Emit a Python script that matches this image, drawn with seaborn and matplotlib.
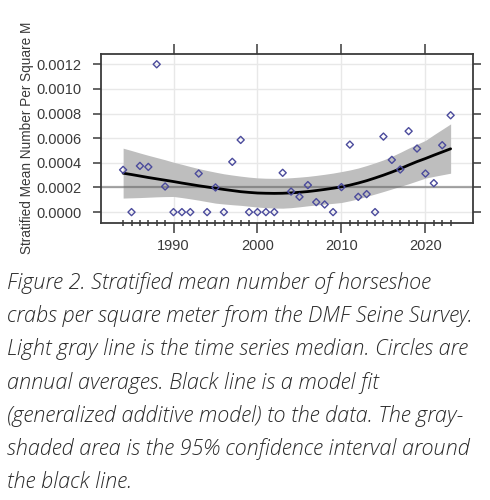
import numpy as np
import pandas as pd
import seaborn as sns
import matplotlib
matplotlib.use("Agg")
import matplotlib.pyplot as plt
from matplotlib.ticker import FixedLocator, FuncFormatter

# annual averages
years = list(range(1984, 2024))
density = [0.000343, 0.0, 0.000375, 0.000367, 0.0012, 0.000208, 0.0, 0.0, 0.0, 0.000313,
           0.0, 0.0002, 0.0, 0.000408, 0.000586, 0.0, 0.0, 0.0, 0.0, 0.000319,
           0.000167, 0.000124, 0.000219, 0.000081, 0.000062, 0.0, 0.000203, 0.000548, 0.000124, 0.000146,
           0.0, 0.000613, 0.000424, 0.000346, 0.000657, 0.000516, 0.000313, 0.000235, 0.000543, 0.000786]

# GAM fit and 95% CI, read at each year
gam_fit = [0.000316, 0.000305, 0.000293, 0.000281, 0.000270, 0.000259, 0.000248, 0.000236, 0.000225, 0.000214,
           0.000204, 0.000194, 0.000184, 0.000175, 0.000166, 0.000160, 0.000155, 0.000153, 0.000152, 0.000153,
           0.000156, 0.000161, 0.000167, 0.000175, 0.000184, 0.000194, 0.000205, 0.000219, 0.000236, 0.000255,
           0.000277, 0.000300, 0.000325, 0.000352, 0.000382, 0.000410, 0.000435, 0.000462, 0.000488, 0.000514]
ci_upper = [0.000519, 0.000500, 0.000480, 0.000461, 0.000443, 0.000425, 0.000405, 0.000388, 0.000370, 0.000353,
            0.000338, 0.000324, 0.000311, 0.000301, 0.000292, 0.000284, 0.000278, 0.000275, 0.000274, 0.000275,
            0.000279, 0.000284, 0.000290, 0.000298, 0.000307, 0.000317, 0.000329, 0.000342, 0.000358, 0.000378,
            0.000400, 0.000424, 0.000453, 0.000485, 0.000519, 0.000551, 0.000582, 0.000628, 0.000672, 0.000716]
ci_lower = [0.000114, 0.000116, 0.000118, 0.000121, 0.000124, 0.000126, 0.000127, 0.000118, 0.000108, 0.000097,
            0.000085, 0.000073, 0.000066, 0.000060, 0.000055, 0.000048, 0.000041, 0.000036, 0.000033, 0.000032,
            0.000036, 0.000043, 0.000051, 0.000058, 0.000065, 0.000071, 0.000078, 0.000092, 0.000108, 0.000127,
            0.000147, 0.000167, 0.000188, 0.000209, 0.000230, 0.000253, 0.000276, 0.000290, 0.000303, 0.000316]

x_major = [1990, 2000, 2010, 2020]
y_ticks = [0.0, 0.0002, 0.0004, 0.0006, 0.0008, 0.0010, 0.0012]

caption = [
    "Figure 2. Stratified mean number of horseshoe",
    "crabs per square meter from the DMF Seine Survey.",
    "Light gray line is the time series median. Circles are",
    "annual averages. Black line is a model fit",
    "(generalized additive model) to the data. The gray-",
    "shaded area is the 95% confidence interval around",
    "the black line.",
]

df = pd.DataFrame({"year": years, "density": density, "fit": gam_fit,
                   "lo": ci_lower, "hi": ci_upper})

sns.set_style("white")
plt.rcParams["font.family"] = ["Liberation Sans", "DejaVu Sans"]

fig = plt.figure(figsize=(4.9, 5.0), dpi=100)
ax = fig.add_axes([100.7 / 490, 1 - 222.5 / 500, 372.6 / 490, 168.2 / 500])

ink = "#3a3a3a"
for v in y_ticks:
    ax.axhline(v, color="#e8e8e8", lw=1, zorder=0)
for v in x_major:
    ax.axvline(v, color="#e8e8e8", lw=1, zorder=0)

ax.fill_between(df["year"], df["lo"], df["hi"], color="#bebebe", lw=0, zorder=1)
ax.axhline(np.median(density), color="#555555", alpha=0.5, lw=1.6, zorder=2)
sns.lineplot(data=df, x="year", y="fit", color="black", lw=2, ax=ax, zorder=3)
sns.scatterplot(data=df, x="year", y="density", marker="D", s=13, fc="none",
                ec="#4b4b9c", linewidth=1, ax=ax, zorder=4)

ax.set_xlim(1981.33, 2025.7)
ax.set_ylim(-0.0000843, 0.001281)
ax.xaxis.set_major_locator(FixedLocator(x_major))
ax.xaxis.set_minor_locator(FixedLocator([y for y in years if y not in x_major]))
ax.set_yticks(y_ticks)
ax.yaxis.set_major_formatter(FuncFormatter(lambda v, p: f"{v:.4f}"))

for s in ax.spines.values():
    s.set_color(ink)
    s.set_linewidth(1.3)
    s.set_visible(True)

ax.tick_params(axis="x", which="major", direction="out", length=7, width=1.1, color=ink,
               top=True, bottom=True, labeltop=False, labelsize=10.5, labelcolor=ink, pad=5)
ax.tick_params(axis="x", which="minor", direction="inout", length=5, width=1.1, color=ink,
               bottom=True, top=False)
ax.tick_params(axis="y", which="major", direction="out", length=6, width=1.1, color=ink,
               left=True, right=True, labelright=False, labelsize=10.5, labelcolor=ink, pad=8)

ax.set_xlabel("")
ax.set_ylabel("Stratified Mean Number Per Square M", fontsize=9.8, color=ink, va="center")
ax.yaxis.set_label_coords((27 - 100.7) / 372.6, (222.5 - 137.5) / 168.2)

line_y = [283, 316, 349, 382.5, 416, 449, 482]
for txt, yy in zip(caption, line_y):
    fig.text(7 / 490, 1 - yy / 500, txt, family=["Open Sans", "DejaVu Sans"], style="italic",
             weight="light", fontsize=15.6, color="#2a2a2a", ha="left", va="center")

fig.savefig("out.png", dpi=100)
